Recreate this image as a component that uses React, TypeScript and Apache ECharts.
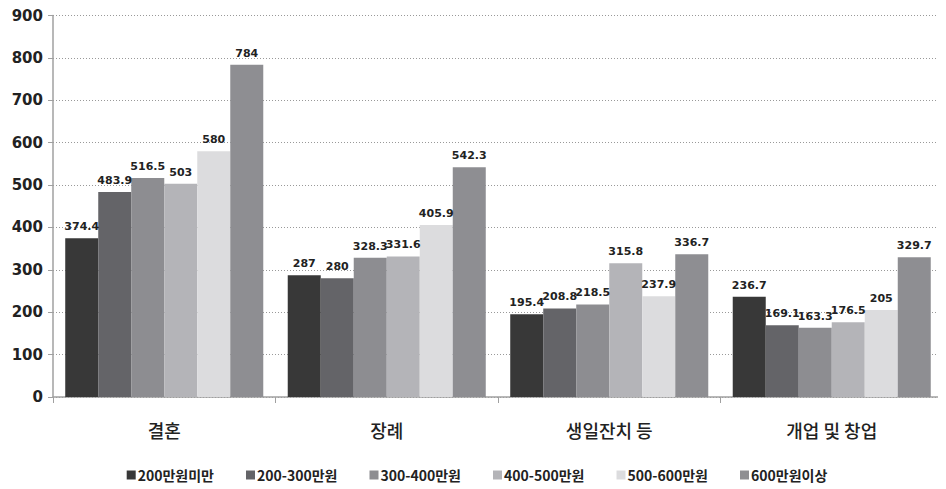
import React, { useEffect, useRef } from "react";
import * as echarts from "echarts";

const categories = ["결혼", "장례", "생일잔치 등", "개업 및 창업"];
const seriesNames = ["200만원미만", "200-300만원", "300-400만원", "400-500만원", "500-600만원", "600만원이상"];
const under200 = [374.4, 287, 195.4, 236.7];
const from200to300 = [483.9, 280, 208.8, 169.1];
const from300to400 = [516.5, 328.3, 218.5, 163.3];
const from400to500 = [503, 331.6, 315.8, 176.5];
const from500to600 = [580, 405.9, 237.9, 205];
const over600 = [784, 542.3, 336.7, 329.7];
const seriesValues = [under200, from200to300, from300to400, from400to500, from500to600, over600];
const colors = ["#383838", "#646468", "#8d8d91", "#b4b4b8", "#dcdcde", "#8e8e92"];

const App: React.FC = () => {
  const ref = useRef<HTMLDivElement>(null);
  useEffect(() => {
    if (!ref.current) return;
    const chart = echarts.init(ref.current, null, { renderer: "svg" });
    chart.setOption({
      animation: false,
      backgroundColor: "#ffffff",
      textStyle: { fontFamily: "'Noto Sans CJK KR', 'DejaVu Sans', sans-serif" },
      grid: { left: 45, right: 3, top: 6, bottom: 92, containLabel: false },
      legend: {
        bottom: 2,
        left: "center",
        icon: "rect",
        itemWidth: 9,
        itemHeight: 9,
        itemGap: 32,
        textStyle: { fontSize: 14, fontWeight: "bold", color: "#222", padding: [0, 0, 0, -3] },
        data: seriesNames,
      },
      xAxis: {
        type: "category",
        data: categories,
        axisLine: { lineStyle: { color: "#a0a0a0", width: 1.5 } },
        axisTick: { show: true, length: 6, lineStyle: { color: "#a0a0a0" } },
        axisLabel: { fontSize: 18, fontWeight: 500, color: "#222", margin: 24 },
      },
      yAxis: {
        type: "value",
        min: 0,
        max: 900,
        interval: 100,
        axisLine: { show: true, lineStyle: { color: "#a0a0a0", width: 1.5 } },
        axisTick: { show: true, length: 5, lineStyle: { color: "#a0a0a0" } },
        axisLabel: { fontSize: 15, fontWeight: "bold", color: "#222", margin: 10, fontFamily: "'DejaVu Sans', sans-serif" },
        splitLine: { lineStyle: { color: "#999", type: [1, 2], width: 1 } },
      },
      series: seriesNames.map((name, i) => ({
        name,
        type: "bar",
        data: seriesValues[i],
        barGap: "0%",
        barCategoryGap: "11%",
        itemStyle: { color: colors[i] },
        label: {
          show: true,
          position: "top",
          distance: 6,
          fontSize: 11,
          fontWeight: "bold",
          color: "#222",
          fontFamily: "'DejaVu Sans', sans-serif",
        },
      })),
    });
    return () => chart.dispose();
  }, []);
  return <div ref={ref} style={{ width: 938, height: 481 }} />;
};

export default App;
